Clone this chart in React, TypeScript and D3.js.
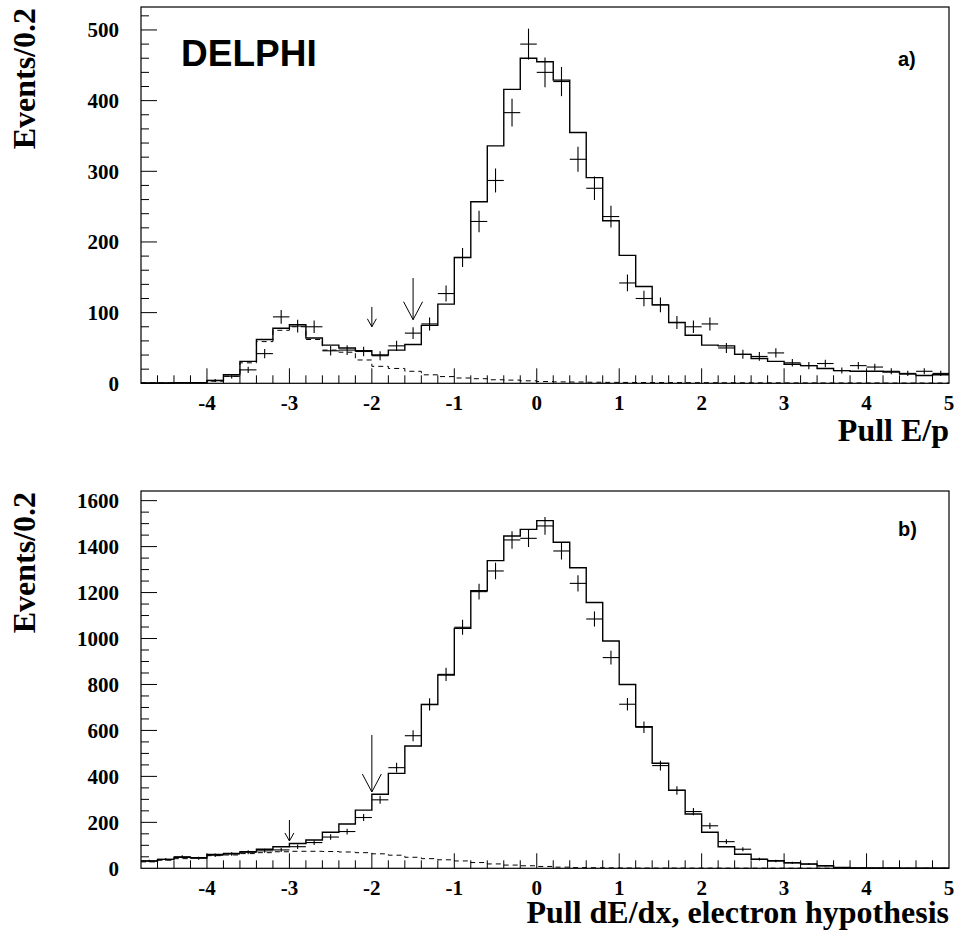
import React from 'react';
import * as d3 from 'd3';

// Histogram binning: 49 bins of width 0.2 starting at -4.8
const BIN_START = -4.8;
const BIN_WIDTH = 0.2;

// a) Pull E/p — simulation (solid histogram)
const topSimulation = [
  0.5, 0.5, 1, 1, 4, 12, 31, 62, 78, 83, 64, 54, 50, 46, 40, 47, 55, 82, 112, 178,
  257, 336, 416, 460, 455, 429, 355, 291, 230, 181, 137, 111, 86, 68, 54, 53, 41, 35, 31, 27,
  25, 21, 18, 17, 17, 16, 13, 11, 12,
];
// a) data points (bin centres)
const topData = [
  0, 0, 1, 1, 4, 10, 19, 42, 94, 81, 80, 46, 47, 45, 39, 53, 71, 84, 127, 178,
  229, 287, 383, 480, 440, 427, 317, 276, 236, 142, 120, 111, 86, 80, 84, 50, 41, 38, 43, 29,
  25, 28, 18, 25, 23, 17, 14, 17, 14,
];
// a) background (dashed)
const topBackground = [
  0.5, 0.5, 1, 1, 3, 10, 29, 59, 75, 80, 62, 47, 44, 33, 24, 21, 17, 12, 9.5, 7.5,
  6.5, 5, 4.5, 3.5, 2.5, 2, 1.8, 1.5, 1.3, 1.2, 1.1, 1, 1, 0.9, 0.9, 0.8, 0.8, 0.7, 0.7, 0.6,
  0.6, 0.5, 0.5, 0.5, 0.5, 0.4, 0.4, 0.4, 0.4,
];

// b) Pull dE/dx — simulation
const bottomSimulation = [
  32, 39, 48, 46, 60, 65, 72, 83, 94, 108, 123, 157, 193, 253, 322, 413, 532, 713, 841, 1044,
  1208, 1339, 1446, 1475, 1513, 1419, 1308, 1157, 989, 800, 616, 457, 340, 236, 157, 94, 61, 39, 33, 24,
  18, 11, 4, 1, 1, 1, 0.5, 0.5, 0.5,
];
// b) data points
const bottomData = [
  32, 39, 50, 44, 57, 62, 70, 76, 80, 94, 112, 136, 160, 221, 298, 438, 577, 713, 844, 1049,
  1204, 1294, 1429, 1436, 1490, 1381, 1240, 1085, 917, 714, 614, 447, 339, 247, 185, 116, 83, 40, 32, 24,
  19, 11, 3, 1, 0, 0, 0, 0, 0,
];
// b) background
const bottomBackground = [
  28, 35, 42, 46, 55, 58, 64, 68, 72, 74, 74, 73, 71, 68, 63, 57, 48, 42, 37, 32,
  25, 19, 14, 11, 8, 5, 3, 2.5, 2, 1.5, 1, 1, 1, 0.8, 0.7, 0.6, 0.5, 0.5, 0.5, 0.4,
  0.4, 0.3, 0.3, 0.3, 0.2, 0.2, 0.2, 0.2, 0.2,
];

const xTickLabels = [-4, -3, -2, -1, 0, 1, 2, 3, 4, 5];
const topYTicks = [0, 100, 200, 300, 400, 500];
const bottomYTicks = [0, 200, 400, 600, 800, 1000, 1200, 1400, 1600];

// cut arrows: x position, tip value, tail value, size
const topArrows = [
  { x: -2, tip: 80, tail: 108, big: false },
  { x: -1.5, tip: 90, tail: 149, big: true },
];
const bottomArrows = [
  { x: -3, tip: 119, tail: 210, big: false },
  { x: -2, tip: 332, tail: 580, big: true },
];

const SERIF = '"Liberation Serif", "Times New Roman", serif';
const SANS = '"Liberation Sans", Arial, sans-serif';

type Box = { left: number; right: number; top: number; bottom: number };

function Panel(props: {
  box: Box;
  yMax: number;
  yTicks: number[];
  yMinorStep: number;
  sim: number[];
  data: number[];
  bkg: number[];
  arrows: { x: number; tip: number; tail: number; big: boolean }[];
  xTitle: string;
  xTitleY: number;
  tag: string;
  tagY: number;
  delphi?: boolean;
}) {
  const { box, yMax, yTicks, yMinorStep, sim, data, bkg, arrows } = props;
  const x = d3.scaleLinear().domain([-4.8, 5]).range([box.left, box.right]);
  const y = d3.scaleLinear().domain([0, yMax]).range([box.bottom, box.top]);
  const n = sim.length;
  const edge = (i: number) => BIN_START + i * BIN_WIDTH;
  const line = d3
    .line<[number, number]>()
    .x((d) => x(d[0]))
    .y((d) => y(d[1]))
    .curve(d3.curveStepAfter);
  const pts = (arr: number[]): [number, number][] => [
    ...arr.map((v, i) => [edge(i), v] as [number, number]),
    [edge(arr.length), arr[arr.length - 1]],
  ];

  // x ticks
  const xTicks: { v: number; major: boolean }[] = [];
  for (let i = 1; i < n; i++) {
    const v = edge(i);
    xTicks.push({ v, major: Math.abs(v - Math.round(v)) < 1e-6 });
  }
  const yMinor: number[] = [];
  for (let v = yMinorStep; v < yMax; v += yMinorStep) yMinor.push(v);
  const majorStep = yTicks[1] - yTicks[0];

  return (
    <g>
      {/* ticks */}
      {xTicks.map((t, i) => (
        <line
          key={'xt' + i}
          x1={x(t.v)}
          x2={x(t.v)}
          y1={box.bottom}
          y2={box.bottom - (t.major ? 15 : 8)}
          stroke="#000"
          strokeWidth={1}
        />
      ))}
      {yMinor.map((v, i) => {
        const major = Math.abs(v / majorStep - Math.round(v / majorStep)) < 1e-6;
        return (
          <line
            key={'yt' + i}
            x1={box.left}
            x2={box.left + (major ? 16 : 8)}
            y1={y(v)}
            y2={y(v)}
            stroke="#000"
            strokeWidth={1}
          />
        );
      })}
      {/* background dashed */}
      <path d={line(pts(bkg)) || ''} fill="none" stroke="#000" strokeWidth={1} strokeDasharray="5,4" />
      {/* simulation histogram */}
      <path d={line(pts(sim)) || ''} fill="none" stroke="#000" strokeWidth={1.4} />
      {/* data crosses */}
      {data.map((v, i) => {
        const c = edge(i) + BIN_WIDTH / 2;
        const e = Math.sqrt(v);
        return (
          <g key={'d' + i} stroke="#000" strokeWidth={1.1}>
            <line x1={x(edge(i))} x2={x(edge(i + 1))} y1={y(v)} y2={y(v)} />
            {v > 0 && <line x1={x(c)} x2={x(c)} y1={y(v - e)} y2={y(v + e)} />}
          </g>
        );
      })}
      {/* arrows */}
      {arrows.map((a, i) => {
        const ax = x(a.x);
        const tipY = y(a.tip);
        const hw = a.big ? 9.5 : 4.5;
        const hh = a.big ? 18 : 8;
        return (
          <g key={'a' + i} stroke="#000" strokeWidth={1} fill="none">
            <line x1={ax} x2={ax} y1={y(a.tail)} y2={tipY} />
            <polyline points={`${ax - hw},${tipY - hh} ${ax},${tipY} ${ax + hw},${tipY - hh}`} />
          </g>
        );
      })}
      {/* frame */}
      <rect
        x={box.left}
        y={box.top}
        width={box.right - box.left}
        height={box.bottom - box.top}
        fill="none"
        stroke="#000"
        strokeWidth={1.2}
      />
      {/* tick labels */}
      {xTickLabels.map((v) => (
        <text
          key={'xl' + v}
          x={x(v)}
          y={box.bottom + 27}
          textAnchor="middle"
          fontFamily={SERIF}
          fontWeight="bold"
          fontSize={21}
        >
          {v < 0 ? '-' + Math.abs(v) : String(v)}
        </text>
      ))}
      {yTicks.map((v) => (
        <text
          key={'yl' + v}
          x={119}
          y={y(v)}
          dy="0.35em"
          textAnchor="end"
          fontFamily={SERIF}
          fontWeight="bold"
          fontSize={21}
        >
          {v}
        </text>
      ))}
      {/* axis titles */}
      <text
        transform={`translate(35, ${box.top + 1}) rotate(-90)`}
        textAnchor="end"
        fontFamily={SERIF}
        fontWeight="bold"
        fontSize={32}
      >
        Events/0.2
      </text>
      <text x={949} y={props.xTitleY} textAnchor="end" fontFamily={SERIF} fontWeight="bold" fontSize={32}>
        {props.xTitle}
      </text>
      <text x={898} y={props.tagY} fontFamily={SANS} fontWeight="bold" fontSize={20}>
        {props.tag}
      </text>
      {props.delphi && (
        <text x={181} y={66} fontFamily={SANS} fontWeight="bold" fontSize={37}>
          DELPHI
        </text>
      )}
    </g>
  );
}

export default function App() {
  return (
    <svg
      width={957}
      height={937}
      viewBox="0 0 957 937"
      style={{ position: 'absolute', left: 0, top: 0, background: '#fff' }}
    >
      <rect x={0} y={0} width={957} height={937} fill="#fff" />
      <Panel
        box={{ left: 141, right: 949, top: 7, bottom: 383.3 }}
        yMax={532.5}
        yTicks={topYTicks}
        yMinorStep={20}
        sim={topSimulation}
        data={topData}
        bkg={topBackground}
        arrows={topArrows}
        xTitle="Pull E/p"
        xTitleY={441}
        tag="a)"
        tagY={66}
        delphi
      />
      <Panel
        box={{ left: 141, right: 949, top: 491, bottom: 868.3 }}
        yMax={1642}
        yTicks={bottomYTicks}
        yMinorStep={50}
        sim={bottomSimulation}
        data={bottomData}
        bkg={bottomBackground}
        arrows={bottomArrows}
        xTitle="Pull dE/dx, electron hypothesis"
        xTitleY={923}
        tag="b)"
        tagY={536}
      />
    </svg>
  );
}
